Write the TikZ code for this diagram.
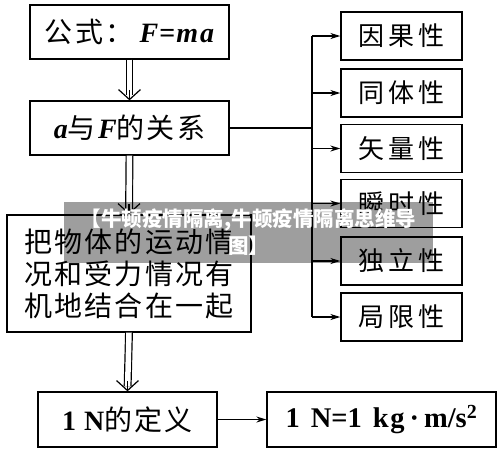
\documentclass[tikz,border=0pt]{standalone}
\usepackage{fontspec}
\setmainfont{Liberation Serif}
\newfontfamily\cjk[LetterSpace=8]{Noto Sans CJK SC}
\newfontfamily\cjkr[LetterSpace=16]{Noto Sans CJK SC}
\newfontfamily\cjkwm{Noto Sans CJK SC}
\usetikzlibrary{arrows.meta,calc}
\begin{document}
\begin{tikzpicture}[x=1pt,y=-1pt,
  box/.style={draw, line width=1.3pt, inner sep=0pt, align=center},
  rbox/.style={box, minimum width=121pt, minimum height=48pt, font=\fontsize{26}{30}\cjkr},
  arr/.style={line width=1.2pt, -{Stealth[length=10pt,width=6pt]}},
  dbl/.style={double, double distance=5.5pt, line width=1.2pt, shorten >=5pt},
  vtip/.style={line width=1.2pt, -{Straight Barb[length=10pt,width=22pt]}}]
\useasboundingbox (0,0) rectangle (500,467);

\node[box, minimum width=199pt, minimum height=54pt, font=\fontsize{28}{30}\selectfont] (b1) at (129.5,32)
  {{\cjk 公式：}\hspace{4pt}\textbf{\textit{F}\kern1pt=\kern1pt\textit{m\kern2pt a}}};
\node[box, minimum width=199pt, minimum height=54pt, font=\fontsize{28}{30}\selectfont] (b2) at (129.5,128)
  {\textbf{\textit{a}}{\cjk 与}\textbf{\textit{F}}{\cjk 的关系}};
\node[box, minimum width=244pt, minimum height=117pt, font=\fontsize{28}{32}\cjk] (b3) at (129,273.5)
  {把物体的运动情\\况和受力情况有\\机地结合在一起};
\node[box, minimum width=179pt, minimum height=55pt, font=\fontsize{28}{30}\selectfont] (b4) at (127.5,419.5)
  {\textbf{1\kern8pt N}{\cjk 的定义}};
\node[box, minimum width=229pt, minimum height=55pt, font=\fontsize{28.5}{30}\selectfont] (b5) at (381.5,419.5)
  {\textbf{1\kern11pt N=1\kern11pt k\kern1.5pt g\kern5pt·\kern5pt m/s\textsuperscript{2}}};

\node[rbox] (r1) at (401.5,36) {因果性};
\node[rbox] (r2) at (401.5,93) {同体性};
\node[rbox] (r3) at (401.5,148.5) {矢量性};
\node[rbox] (r4) at (401.5,203.5) {瞬时性};
\node[rbox] (r5) at (401.5,261) {独立性};
\node[rbox] (r6) at (401.5,317) {局限性};

\coordinate (ttop) at (312,36);
\coordinate (tbot) at (312,317);
\draw[line width=1.2pt] (ttop) -- (tbot);
\draw[line width=1.2pt] (b2.east) -- (b2.east -| ttop);
\foreach \i in {1,...,6} \draw[arr] (r\i.west -| ttop) -- (r\i.west);

\draw[dbl] (b1.south) -- (b2.north);
\draw[vtip] ($(b2.north)+(0,-10.5)$) -- (b2.north);
\draw[dbl] (b2.south) -- (b3.north);
\draw[vtip] ($(b3.north)+(0,-10.5)$) -- (b3.north);
\draw[dbl] (b3.south) -- (b4.north);
\draw[vtip] ($(b4.north)+(0,-10.5)$) -- (b4.north);
\draw[arr] (b4.east) -- (b5.west);

\node[fill=black, fill opacity=0.38, text opacity=1, text=white, minimum width=369pt, minimum height=61pt, inner sep=0pt,
  align=center, font=\fontsize{20.5}{27}\cjkwm\bfseries] (wm) at (248.5,232.5)
  {【牛顿疫情隔离,牛顿疫情隔离思维导\\图】};
\end{tikzpicture}
\end{document}
